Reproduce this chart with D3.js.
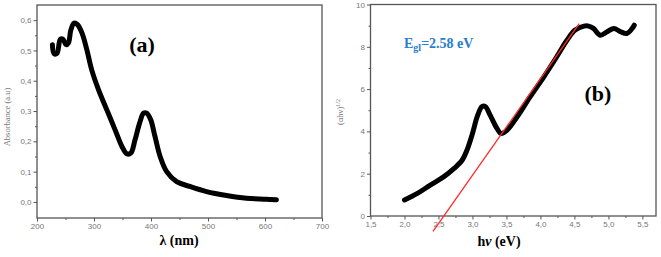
<!DOCTYPE html>
<html>
<head>
<meta charset="utf-8">
<script src="https://cdn.jsdelivr.net/npm/d3@7"></script>
<style>
  body { margin: 0; background: #fff; }
  .tick text { fill: #777; font-family: "Liberation Sans", Arial, sans-serif; font-size: 8px; }
  .domain, .tick line { stroke: #555; }
</style>
</head>
<body>
<div id="chart"></div>
<script>
// panel (a): absorbance spectrum
const lambda = [227, 230, 235, 241, 245.5, 251, 255, 259.5, 265, 271, 279, 287.5, 296, 308, 322.5, 337, 349, 357.5, 364.5, 372, 380, 387, 392.5, 399.5, 407, 416, 427.5, 445, 468, 497.5, 532.5, 567.5, 602.5, 620];
const absorb = [0.519, 0.489, 0.49, 0.537, 0.537, 0.519, 0.524, 0.568, 0.59, 0.585, 0.557, 0.502, 0.436, 0.37, 0.304, 0.238, 0.183, 0.159, 0.161, 0.205, 0.26, 0.293, 0.293, 0.271, 0.216, 0.15, 0.1, 0.067, 0.051, 0.034, 0.021, 0.012, 0.009, 0.007];

// panel (b): Tauc plot
const hv = [2.0, 2.19, 2.38, 2.58, 2.73, 2.85, 2.92, 3.0, 3.07, 3.14, 3.19, 3.26, 3.36, 3.42, 3.51, 3.66, 3.85, 4.05, 4.24, 4.39, 4.51, 4.64, 4.71, 4.78, 4.88, 4.98, 5.08, 5.18, 5.27, 5.35, 5.38];
const tauc = [0.76, 1.07, 1.46, 1.86, 2.25, 2.65, 3.12, 3.9, 4.7, 5.17, 5.17, 4.77, 4.14, 3.9, 4.06, 4.7, 5.64, 6.58, 7.53, 8.31, 8.79, 8.98, 8.98, 8.87, 8.55, 8.71, 8.87, 8.71, 8.63, 8.87, 9.02];
const fitX = [2.42, 4.57];
const fitY = [-0.73, 9.1];

const aXTicks = [200, 300, 400, 500, 600, 700];
const aYTicks = [0, 0.1, 0.2, 0.3, 0.4, 0.5, 0.6];
const bXTicks = [1.5, 2.0, 2.5, 3.0, 3.5, 4.0, 4.5, 5.0, 5.5];
const bYTicks = [0, 2, 4, 6, 8, 10];

const width = 661, height = 257;
const comma = d => d3.format(".1f")(d).replace(".", ",");

const svg = d3.select("#chart").append("svg")
  .attr("width", width)
  .attr("height", height);

svg.append("rect").attr("width", width).attr("height", height).attr("fill", "#fff");

function panel(box, xDom, yDom, xTicks, yTicks, xMinor, yMinor, xFmt, yFmt) {
  const x = d3.scaleLinear().domain(xDom).range([box.left, box.right]);
  const y = d3.scaleLinear().domain(yDom).range([box.bottom, box.top]);

  // frame
  svg.append("rect")
    .attr("x", box.left).attr("y", box.top)
    .attr("width", box.right - box.left).attr("height", box.bottom - box.top)
    .attr("fill", "none").attr("stroke", "#555").attr("stroke-width", 1.3);

  // minor ticks
  svg.append("g").attr("transform", "translate(0," + box.bottom + ")")
    .call(d3.axisBottom(x).tickValues(xMinor).tickSize(2).tickFormat(""))
    .call(g => g.select(".domain").remove());
  svg.append("g").attr("transform", "translate(" + box.left + ",0)")
    .call(d3.axisLeft(y).tickValues(yMinor).tickSize(2).tickFormat(""))
    .call(g => g.select(".domain").remove());

  // major ticks
  svg.append("g").attr("transform", "translate(0," + box.bottom + ")")
    .call(d3.axisBottom(x).tickValues(xTicks).tickSize(3.5).tickPadding(2).tickFormat(xFmt))
    .call(g => g.select(".domain").remove());
  svg.append("g").attr("transform", "translate(" + box.left + ",0)")
    .call(d3.axisLeft(y).tickValues(yTicks).tickSize(3.5).tickPadding(2).tickFormat(yFmt))
    .call(g => g.select(".domain").remove());

  return { x, y };
}

// ---- panel (a)
const pa = panel({ left: 37, right: 322, top: 5, bottom: 218 },
  [200, 700], [-0.053, 0.65], aXTicks, aYTicks,
  d3.range(250, 700, 100), d3.range(0.05, 0.6, 0.1),
  d3.format("d"), comma);

svg.append("path")
  .datum(lambda.map((d, i) => [d, absorb[i]]))
  .attr("fill", "none")
  .attr("stroke", "#000")
  .attr("stroke-width", 5)
  .attr("stroke-linecap", "round")
  .attr("stroke-linejoin", "round")
  .attr("d", d3.line().x(d => pa.x(d[0])).y(d => pa.y(d[1])).curve(d3.curveCatmullRom));

svg.append("text")
  .attr("x", 142).attr("y", 52)
  .attr("text-anchor", "middle")
  .style("font-family", "'Liberation Serif', 'Times New Roman', serif")
  .style("font-weight", "bold").style("font-size", "22px")
  .text("(a)");

svg.append("text")
  .attr("transform", "translate(10,117) rotate(-90)")
  .attr("text-anchor", "middle")
  .style("font-family", "'Liberation Serif', serif")
  .style("font-size", "8.5px").style("fill", "#777")
  .text("Absorbance (a.u)");

svg.append("text")
  .attr("x", 179).attr("y", 245)
  .attr("text-anchor", "middle")
  .style("font-family", "'Liberation Serif', serif")
  .style("font-weight", "bold").style("font-size", "14px")
  .text("λ (nm)");

// ---- panel (b)
const pb = panel({ left: 370.5, right: 656, top: 4.5, bottom: 216 },
  [1.5, 5.7], [0, 10], bXTicks, bYTicks,
  d3.range(1.75, 5.7, 0.5), d3.range(1, 10, 2),
  comma, d3.format("d"));

svg.append("path")
  .datum(hv.map((d, i) => [d, tauc[i]]))
  .attr("fill", "none")
  .attr("stroke", "#000")
  .attr("stroke-width", 5)
  .attr("stroke-linecap", "round")
  .attr("stroke-linejoin", "round")
  .attr("d", d3.line().x(d => pb.x(d[0])).y(d => pb.y(d[1])).curve(d3.curveCatmullRom));

svg.append("line")
  .attr("x1", pb.x(fitX[0])).attr("y1", pb.y(fitY[0]))
  .attr("x2", pb.x(fitX[1])).attr("y2", pb.y(fitY[1]))
  .attr("stroke", "#ff2a2a")
  .attr("stroke-width", 1.3);

const eg = svg.append("text")
  .attr("x", 404).attr("y", 48)
  .style("font-family", "'Liberation Serif', serif")
  .style("font-weight", "bold").style("font-size", "14px")
  .style("fill", "#2a7ccc");
eg.append("tspan").text("E");
eg.append("tspan").attr("dy", 3).style("font-size", "10px").text("gl");
eg.append("tspan").attr("dy", -3).text("=2.58 eV");

svg.append("text")
  .attr("x", 598).attr("y", 101)
  .attr("text-anchor", "middle")
  .style("font-family", "'Liberation Serif', 'Times New Roman', serif")
  .style("font-weight", "bold").style("font-size", "22px")
  .text("(b)");

const yl = svg.append("text")
  .attr("transform", "translate(343,112) rotate(-90)")
  .attr("text-anchor", "middle")
  .style("font-family", "'Liberation Serif', serif")
  .style("font-size", "8.5px").style("fill", "#777");
yl.append("tspan").text("(αhν)");
yl.append("tspan").attr("dy", -3).style("font-size", "6px").text("1/2");

const xl = svg.append("text")
  .attr("x", 499).attr("y", 246)
  .attr("text-anchor", "middle")
  .style("font-family", "'Liberation Serif', serif")
  .style("font-weight", "bold").style("font-size", "14px");
xl.append("tspan").text("h");
xl.append("tspan").style("font-style", "italic").text("ν");
xl.append("tspan").text(" (eV)");
</script>
</body>
</html>
